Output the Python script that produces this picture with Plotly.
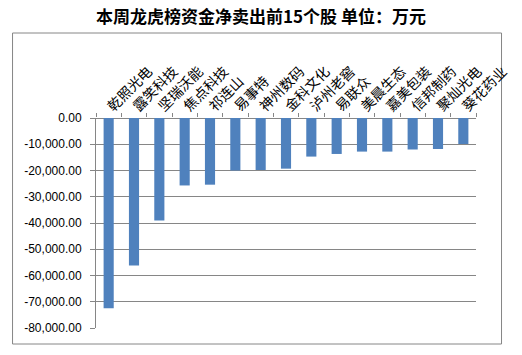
import plotly.graph_objects as go

categories = ["乾照光电", "露笑科技", "坚瑞沃能", "焦点科技", "祁连山", "易事特", "神州数码",
              "金科文化", "泸州老窖", "易联众", "美晨生态", "嘉美包装", "信邦制药", "聚灿光电", "葵花药业"]
values = [-72500, -56200, -39000, -25700, -25400, -20000, -19800,
          -19300, -14700, -13700, -12800, -12800, -12000, -11800, -9900]
y_tick_values = [0, -10000, -20000, -30000, -40000, -50000, -60000, -70000, -80000]
y_tick_labels = ["0.00", "-10,000.00", "-20,000.00", "-30,000.00", "-40,000.00",
                 "-50,000.00", "-60,000.00", "-70,000.00", "-80,000.00"]
title_text = "本周龙虎榜资金净卖出前15个股 单位：万元"

W, H = 522, 355
L, R, T, B = 96, 39, 118, 27
pw, ph = W - L - R, H - T - B

def px_x(p):
    return (p - L) / pw

def px_y(p):
    return (H - B - p) / ph

grid = "#868686"

fig = go.Figure(go.Bar(x=categories, y=values, marker=dict(color="#4F81BD", line=dict(width=0))))

fig.update_layout(
    width=W, height=H,
    margin=dict(l=L, r=R, t=T, b=B, pad=0),
    paper_bgcolor="white", plot_bgcolor="white",
    bargap=0.6,
    showlegend=False,
    font=dict(family="Noto Sans CJK SC", color="black"),
    xaxis=dict(
        side="top", type="category",
        tickangle=-45,
        tickfont=dict(family="Noto Sans CJK SC", size=14, color="black"),
        ticks="outside", tickson="boundaries", ticklen=4, tickcolor=grid,
        showline=False, showgrid=False,
    ),
    yaxis=dict(
        range=[-80000, 0],
        tickvals=y_tick_values, ticktext=y_tick_labels,
        tickfont=dict(family="Liberation Sans", size=12, color="black"),
        ticks="outside", ticklen=5, tickcolor=grid,
        showline=True, linecolor=grid, linewidth=1,
        showgrid=True, gridcolor=grid, gridwidth=1,
        zeroline=True, zerolinecolor=grid, zerolinewidth=1,
        ticklabelstandoff=6,
    ),
    shapes=[dict(
        type="rect", xref="paper", yref="paper",
        x0=px_x(11), x1=px_x(509), y0=px_y(344), y1=px_y(33),
        line=dict(color=grid, width=1), fillcolor="rgba(0,0,0,0)", layer="below",
    )],
    annotations=[dict(
        text="<b>" + title_text + "</b>", xref="paper", yref="paper",
        x=px_x(264), y=px_y(16), xanchor="center", yanchor="middle",
        showarrow=False, font=dict(family="Noto Sans CJK SC", size=17, color="black"),
    )],
)

fig.write_html("out.html")
